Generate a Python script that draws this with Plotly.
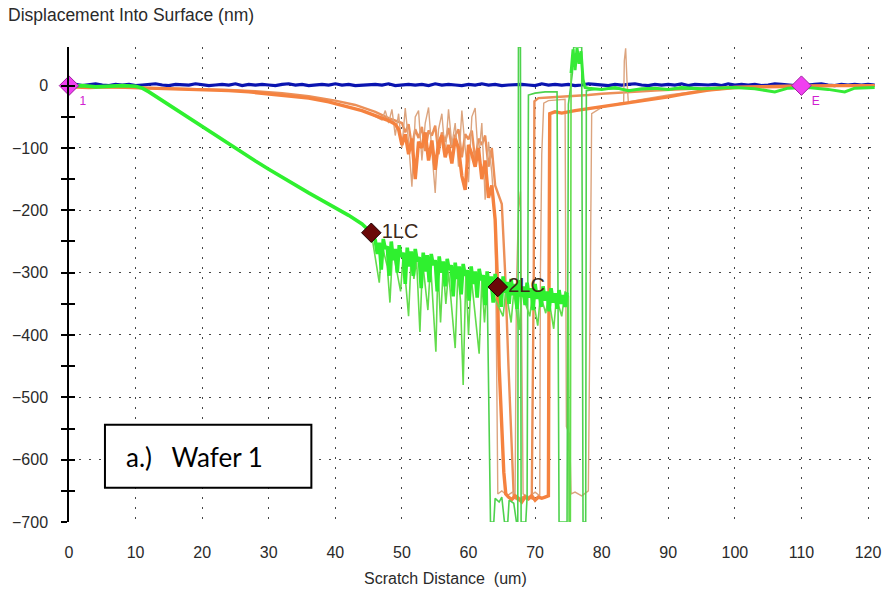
import plotly.graph_objects as go

# ---------------- data ----------------
X_TICKS = [0, 10, 20, 30, 40, 50, 60, 70, 80, 90, 100, 110, 120]
Y_TICKS = [0, -100, -200, -300, -400, -500, -600, -700]
Y_MINOR = [-650, -550, -450, -350, -250, -150, -50]

BLUE_X = list(range(0, 122))
BLUE_Y = [1, 2, 0, 1, 3, 1, 0, 2, 1, 2, 0, 1, 2, 3, 1, 0, 2, 1, 1, 3, 2, 0, 1, 2, 1, 3, 0, 2, 1, 2,
          1, 0, 2, 3, 1, 2, 0, 1, 2, 1, 3, 1, 2, 0, 1, 2, 2, 1, 3, 0, 1, 2, 1, 2, 0, 3, 1, 2, 1, 0,
          2, 1, 3, 1, 2, 0, 1, 2, 2, 1, 0, 3, 1, 2, 1, 2, 0, 1, 3, 2, 1, 0, 2, 1, 2, 3, 1, 0, 2, 1,
          2, 1, 3, 0, 2, 1, 1, 2, 0, 3, 1, 2, 1, 2, 0, 1, 3, 2, 1, 0, 2, 1, 2, 3, 1, 0, 2, 1, 2, 1,
          2, 1]

ORANGE_A = [(0, -2), (3, -3), (6, -2), (9, -3), (12, -3), (15, -4), (18, -5), (21, -6), (24, -8),
            (27, -10), (30, -13), (33, -16), (36, -20), (39, -26), (42, -34), (44, -40), (46, -48),
            (48, -56), (49, -62), (49.5, -70), (50, -95), (50.5, -78), (51, -110), (51.5, -85),
            (52, -150), (52.5, -90), (53, -100), (53.5, -75), (54, -120), (54.5, -88), (55, -135),
            (55.5, -92), (56, -80), (56.5, -115), (57, -95), (57.5, -125), (58, -85), (58.5, -100),
            (59, -145), (59.5, -167), (60, -95), (60.5, -110), (61, -130), (61.5, -100), (62, -150),
            (62.5, -120), (63, -180), (63.5, -160), (64, -215), (64.3, -300), (64.6, -450),
            (65, -540), (65.3, -620), (65.6, -655), (66, -660), (66.5, -664), (67, -658),
            (67.5, -662), (68, -668), (68.5, -660), (69, -663), (69.5, -658), (70, -665),
            (70.5, -660), (71, -662), (71.5, -660), (72, -658), (72.1, -300), (72.2, -45),
            (73, -42), (74, -44), (76, -40), (78, -37), (80, -34), (82, -31), (84, -28), (86, -25),
            (88, -22), (90, -18), (92, -14), (94, -10), (96, -7), (98, -5), (100, -3), (103, -2),
            (106, -1), (110, -1), (115, 0), (121, 0)]

ORANGE_B = [(0, -1), (4, -2), (8, -2), (12, -3), (16, -4), (20, -5), (24, -7), (28, -9), (32, -12),
            (36, -17), (40, -24), (43, -31), (46, -42), (48, -52), (50, -60), (50.5, -75),
            (51, -62), (51.5, -98), (52, -70), (52.5, -84), (53, -66), (53.5, -105), (54, -72),
            (54.5, -80), (55, -64), (55.5, -110), (56, -75), (56.5, -90), (57, -68), (57.5, -100),
            (58, -80), (58.5, -70), (59, -115), (59.5, -78), (60, -86), (60.5, -72), (61, -120),
            (61.5, -85), (62, -95), (62.5, -80), (63, -130), (63.5, -100), (64, -160), (65, -190),
            (65.5, -300), (66, -450), (66.5, -600), (66.8, -660), (67.5, -665), (68.5, -658),
            (69.5, -662), (69.8, -300), (69.9, -25), (70.5, -20), (72, -19), (74, -18), (76, -16),
            (78, -15), (80, -13), (84, -10), (88, -8), (92, -6), (96, -4), (100, -2), (105, -1),
            (110, 0), (121, 0)]

TAN = [(45, -44), (46, -50), (47, -55), (47.5, -40), (48, -60), (48.5, -38), (49, -80), (49.5, -45),
       (50, -100), (50.5, -36), (51, -90), (51.5, -162), (52, -50), (52.5, -40), (53, -120),
       (53.5, -60), (54, -35), (54.5, -105), (55, -172), (55.5, -70), (56, -45), (56.5, -110),
       (57, -38), (57.5, -95), (58, -60), (58.5, -130), (59, -40), (59.5, -100), (60, -155),
       (60.5, -50), (61, -36), (61.5, -120), (62, -60), (62.5, -183), (63, -90), (63.5, -140),
       (64, -220), (64.2, -420), (64.4, -655), (65, -650), (65.8, -658), (66.6, -652), (67.0, -655),
       (67.2, -320), (67.5, -200), (67.8, -170), (68.0, -420), (68.2, -655), (69, -660), (70, -652),
       (70.7, -658), (70.8, -300), (71.0, -110), (71.3, -28), (72, -24), (73, -23), (74.5, -22),
       (74.7, -547), (75.2, -560), (75.4, -655), (76.0, -652), (77.0, -658), (78.0, -650),
       (78.3, -300), (78.5, -45), (80, -35), (82, -30), (83.3, -27), (83.4, 40), (83.6, 60),
       (83.8, 8), (84, -26), (86, -22), (88, -18), (90, -15), (93, -11), (96, -8), (100, -4),
       (105, -2), (110, -1), (121, 0)]

# bright green: ramp before 1LC, then the dense noisy band
GREEN_MAIN = [(0, -1), (2, 0), (4, -2), (6, -1), (8, 0), (10, -1), (11, -4), (12, -10), (14, -24),
              (16, -38), (18, -52), (20, -66), (22, -80), (24, -94), (26, -108), (28, -121),
              (30, -134), (32, -147), (34, -160), (36, -172), (38, -184), (40, -196), (42, -208),
              (44, -222), (45.4, -236),
              (46.0, -248), (46.3, -270), (46.6, -252), (46.9, -295), (47.2, -246), (47.5, -262),
              (47.8, -258), (48.1, -305), (48.4, -250), (48.7, -280), (49.0, -262), (49.3, -300),
              (49.6, -256), (49.9, -275), (50.2, -268), (50.5, -318), (50.8, -260), (51.1, -290),
              (51.4, -266), (51.7, -305), (52.0, -262), (52.3, -282), (52.6, -275), (52.9, -325),
              (53.2, -268), (53.5, -298), (53.8, -272), (54.1, -315), (54.4, -270), (54.7, -288),
              (55.0, -280), (55.3, -330), (55.6, -274), (55.9, -300), (56.2, -282), (56.5, -322),
              (56.8, -278), (57.1, -296), (57.4, -288), (57.7, -338), (58.0, -284), (58.3, -310),
              (58.6, -290), (58.9, -335), (59.2, -286), (59.5, -305), (59.8, -296), (60.1, -345),
              (60.4, -290), (60.7, -318), (61.0, -298), (61.3, -340), (61.6, -294), (61.9, -312),
              (62.2, -304), (62.5, -352), (62.8, -298), (63.1, -325), (63.4, -306), (63.7, -348),
              (64.0, -302), (64.3, -330), (64.6, -310), (64.9, -355), (65.2, -306), (65.5, -332),
              (65.8, -315), (66.1, -350), (66.4, -310), (66.7, -336), (67.0, -318), (67.3, -358),
              (67.6, -312), (67.9, -338), (68.2, -322), (68.5, -352), (68.8, -316), (69.1, -340),
              (69.4, -325), (69.7, -360), (70.0, -318), (70.3, -342), (70.6, -328), (70.9, -355),
              (71.2, -322), (71.5, -345), (71.8, -330), (72.1, -362), (72.4, -325), (72.7, -348),
              (73.0, -333), (73.3, -358), (73.6, -328), (73.9, -350), (74.2, -336), (74.5, -355),
              (74.8, -332)]

# thin green: downward spikes in the noisy band
GREEN_SPIKES = [(45.4, -236), (46.6, -316), (47.0, -255), (47.8, -290), (48.2, -348), (48.6, -262),
                (49.8, -330), (50.2, -270), (51.0, -370), (51.4, -272), (51.8, -310), (52.2, -280),
                (52.7, -395), (53.1, -282), (53.9, -360), (54.3, -285), (55.1, -427), (55.4, -290),
                (55.8, -380), (56.2, -292), (56.6, -350), (57.0, -298), (58.0, -421), (58.4, -300),
                (58.8, -345), (59.2, -480), (59.6, -302), (60.0, -400), (60.4, -306), (61.6, -430),
                (62.0, -312), (62.4, -380), (62.8, -315), (65.2, -370), (65.6, -328), (66.4, -380),
                (66.8, -330), (67.6, -392), (68.0, -332), (69.2, -370), (69.6, -336), (70.4, -385),
                (70.8, -335), (71.6, -365), (72.0, -338), (72.8, -390), (73.2, -340), (74.0, -370),
                (74.5, -330), (75.0, -338), (75.1, -700), (75.3, -700), (75.4, 20)]

# bright green after the failure: spike above the chart and the flat tail
GREEN_TAIL = [(75.4, 20), (75.7, 58), (76.0, 25), (76.3, 60), (76.6, 35), (76.9, 55), (77.2, 10),
              (77.5, -3), (78, -4), (80, -6), (82, -3), (84, -8), (86, -5), (88, -4), (90, -6),
              (92, -3), (95, -5), (98, -4), (100, -3), (103, -5), (106, -10), (108, -4),
              (111, -3), (114, -6), (116.5, -10), (118, -4), (121, -3)]

GREEN_THIN = [(62.8, -320), (63.3, -700), (63.8, -700), (64.0, -662), (64.6, -668), (65.0, -660),
              (65.4, -700), (65.9, -700), (66.1, -665), (66.8, -670), (67.2, -700), (67.4, -700),
              (67.5, 62), (67.8, 62), (67.9, -700), (68.6, -700), (68.8, -660), (69.0, -15),
              (70, -12), (71.5, -10), (73.3, -10), (73.6, -700), (74.8, -700), (75.0, -30),
              (75.6, 20), (75.8, 62), (77.0, 62), (77.2, -700), (77.6, -700), (77.7, -8),
              (79, -6), (81, -5), (85, -7), (90, -5), (95, -6)]

START_END_X = [0, 110]
START_END_Y = [0, 0]
START_END_TEXT = ["1", "E"]

LC_X = [45.4, 64.4]
LC_Y = [-236, -323]
LC_TEXT = ["1LC", "2LC"]

FONT = "Liberation Sans, Arial, sans-serif"
TXT = "#2a2a2a"


def xs(pts):
    return [p[0] for p in pts]


def ys(pts):
    return [p[1] for p in pts]


def line_trace(pts, color, width):
    return go.Scatter(x=xs(pts), y=ys(pts), mode="lines", line=dict(color=color, width=width),
                      hoverinfo="skip")


fig = go.Figure()

fig.add_trace(go.Scatter(x=BLUE_X, y=BLUE_Y[:len(BLUE_X)], mode="lines",
                         line=dict(color="#0a14b0", width=3.2)))
fig.add_trace(line_trace(ORANGE_B, "#ec9058", 2.4))
fig.add_trace(line_trace(TAN, "#dca47e", 1.4))
fig.add_trace(line_trace(ORANGE_A, "#f5823f", 3.4))
fig.add_trace(line_trace(GREEN_THIN, "#4ed24e", 1.6))
fig.add_trace(line_trace(GREEN_SPIKES, "#62dc4c", 1.6))
fig.add_trace(line_trace(GREEN_MAIN, "#2ff02f", 3.6))
fig.add_trace(line_trace(GREEN_TAIL, "#36ea36", 3))

fig.add_trace(go.Scatter(x=START_END_X, y=START_END_Y, mode="markers+text",
                         text=START_END_TEXT, textposition="bottom right",
                         textfont=dict(color="#d020d0", size=12, family=FONT),
                         marker=dict(symbol="diamond", size=15, color="#f040f0",
                                     line=dict(color="#a020a0", width=1)),
                         cliponaxis=False))
fig.add_trace(go.Scatter(x=LC_X, y=LC_Y, mode="markers+text",
                         text=LC_TEXT, textposition="middle right",
                         textfont=dict(color="#3b2a1a", size=20, family=FONT),
                         marker=dict(symbol="diamond", size=15, color="#6a0808",
                                     line=dict(color="#1a0000", width=1))))

grid = dict(showgrid=True, gridcolor="#444444", gridwidth=1.4, griddash="1.5px,8.5px")

fig.update_layout(
    width=886, height=600,
    margin=dict(l=69, r=5, t=47, b=78),
    paper_bgcolor="white", plot_bgcolor="white",
    showlegend=False,
    font=dict(family=FONT, size=16, color=TXT),
    title=dict(text="Displacement Into Surface (nm)", x=8 / 886, xanchor="left",
               y=1 - 15 / 600, yanchor="middle", font=dict(size=17.5, color=TXT, family=FONT)),
    xaxis=dict(range=[0, 121.5], tickvals=X_TICKS, ticks="", showline=False, zeroline=False,
               ticklabelstandoff=19, tickfont=dict(size=16, color=TXT), **grid),
    yaxis=dict(range=[-700, 62], tickvals=Y_TICKS, ticks="outside", ticklen=6, tickwidth=1.5,
               tickcolor="black", showline=True, linecolor="black", linewidth=1.5,
               zeroline=False, ticklabelstandoff=10, tickfont=dict(size=16, color=TXT),
               minor=dict(tickvals=Y_MINOR, ticks="outside",
                          ticklen=6, tickwidth=1.5, tickcolor="black", showgrid=False),
               **grid),
    yaxis2=dict(overlaying="y", matches="y", side="left", showgrid=False, zeroline=False,
                showticklabels=False, tickvals=Y_TICKS, ticks="inside", ticklen=6,
                tickwidth=1.5, tickcolor="black",
                minor=dict(tickvals=Y_MINOR, ticks="inside",
                           ticklen=6, tickwidth=1.5, tickcolor="black", showgrid=False)),
)

# invisible trace so yaxis2 (inner tick halves) is drawn
fig.add_trace(go.Scatter(x=[0], y=[0], yaxis="y2", mode="markers",
                         marker=dict(opacity=0), hoverinfo="skip"))

fig.add_shape(type="rect", xref="x", yref="y", x0=5.4, x1=36.4, y0=-645, y1=-544,
              line=dict(color="black", width=2), fillcolor="white", layer="above")
fig.add_annotation(text="a.)\u00a0\u00a0\u00a0Wafer 1", xref="x", yref="y", x=8.2, y=-595,
                   xanchor="left", yanchor="middle", showarrow=False,
                   font=dict(family="Lato, Open Sans, sans-serif", size=26, color="black"))
fig.add_annotation(text="Scratch Distance\u00a0 (um)", xref="paper", yref="paper",
                   x=(447 - 69) / 812, y=0, yshift=-56, xanchor="center", yanchor="middle",
                   showarrow=False, font=dict(size=16, color=TXT, family=FONT))

fig.write_html("out.html")
